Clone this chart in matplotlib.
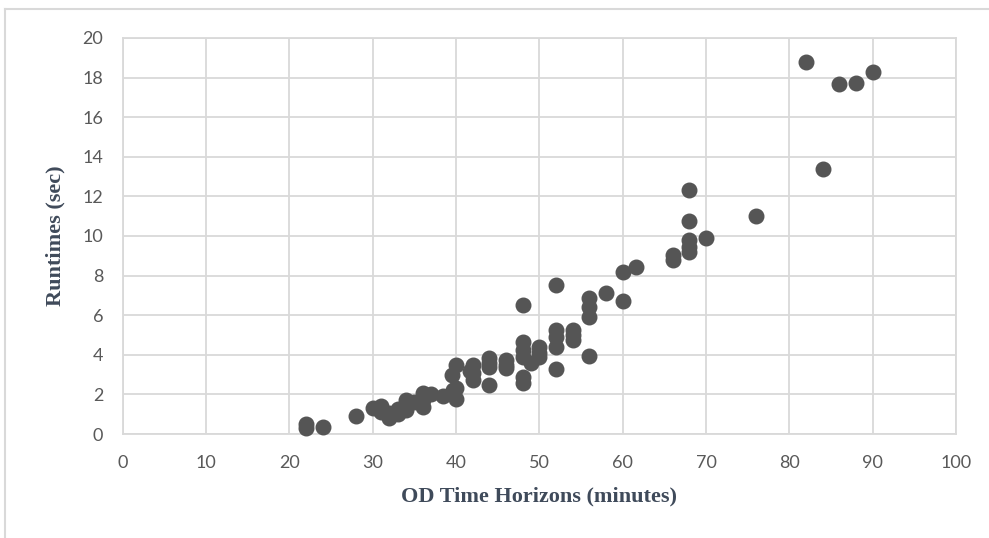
import matplotlib
matplotlib.use("Agg")
import matplotlib.pyplot as plt
from matplotlib.lines import Line2D

# Datos (minutos, segundos)
horizonte = [22, 22, 24, 28, 30, 31, 31, 32, 32, 33, 33, 34, 34, 34, 35, 36, 36, 36, 37,
             38.5, 39.5, 39.7, 40, 40, 40, 42, 42, 42, 41.7, 44, 44, 44, 44, 46, 46, 46,
             48, 48, 48, 48, 48, 48, 49, 50, 50, 50, 52, 52, 52, 52, 52, 54, 54, 54,
             56, 56, 56, 56, 58, 60, 60, 61.6, 66, 66, 68, 68, 68, 68, 68, 70,
             76, 82, 84, 86, 88, 90]
runtime = [0.5, 0.3, 0.37, 0.9, 1.3, 1.4, 1.1, 0.8, 1.05, 1.25, 1.0, 1.7, 1.2, 1.5, 1.6, 2.05, 1.35, 1.7, 2.0,
           1.9, 2.98, 2.2, 1.75, 3.48, 2.3, 3.48, 3.06, 2.73, 3.2, 3.82, 3.4, 2.5, 3.6, 3.74, 3.32, 3.5,
           6.5, 4.66, 4.24, 3.9, 2.9, 2.6, 3.57, 4.41, 3.9, 4.1, 7.5, 5.25, 4.92, 4.41, 3.27, 5.25, 4.75, 5.0,
           6.85, 6.43, 5.9, 3.95, 7.12, 8.2, 6.7, 8.42, 9.04, 8.79, 12.3, 10.76, 9.8, 9.45, 9.2, 9.9,
           11.0, 18.8, 13.4, 17.7, 17.75, 18.3]

xticks = list(range(0, 101, 10))
yticks = list(range(0, 21, 2))

gris = "#d9d9d9"
fig = plt.figure(figsize=(9.89, 5.38), dpi=100)
ax = fig.add_axes([0.1239, 0.1933, 0.8427, 0.7361])

ax.scatter(horizonte, runtime, s=110, color="#555555", zorder=3, clip_on=False)

ax.set_xlim(0, 100)
ax.set_ylim(0, 20)
ax.set_xticks(xticks)
ax.set_yticks(yticks)
ax.grid(True, color=gris, linewidth=1.3, zorder=0)
ax.set_axisbelow(True)
for s in ax.spines.values():
    s.set_color(gris)
    s.set_linewidth(1.3)
ax.tick_params(length=0, labelsize=13, labelcolor="#595959")
ax.tick_params(axis="x", pad=15)
ax.tick_params(axis="y", pad=14)
for lab in ax.get_xticklabels() + ax.get_yticklabels():
    lab.set_family(["Lato", "DejaVu Sans"])

ax.set_xlabel("OD Time Horizons (minutes)", family="Liberation Serif", fontweight="bold",
              fontsize=16, color="#3f4a5a", labelpad=11)
ax.set_ylabel("Runtimes (sec)", family="Liberation Serif", fontweight="bold",
              fontsize=16, color="#3f4a5a", labelpad=12)

# marco exterior del grafico
fig.add_artist(Line2D([5 / 989, 1], [1 - 9 / 538, 1 - 9 / 538], color=gris, linewidth=1.5,
                      transform=fig.transFigure))
fig.add_artist(Line2D([5 / 989, 5 / 989], [0, 1 - 9 / 538], color=gris, linewidth=1.5,
                      transform=fig.transFigure))

fig.savefig("out.png", dpi=100)
